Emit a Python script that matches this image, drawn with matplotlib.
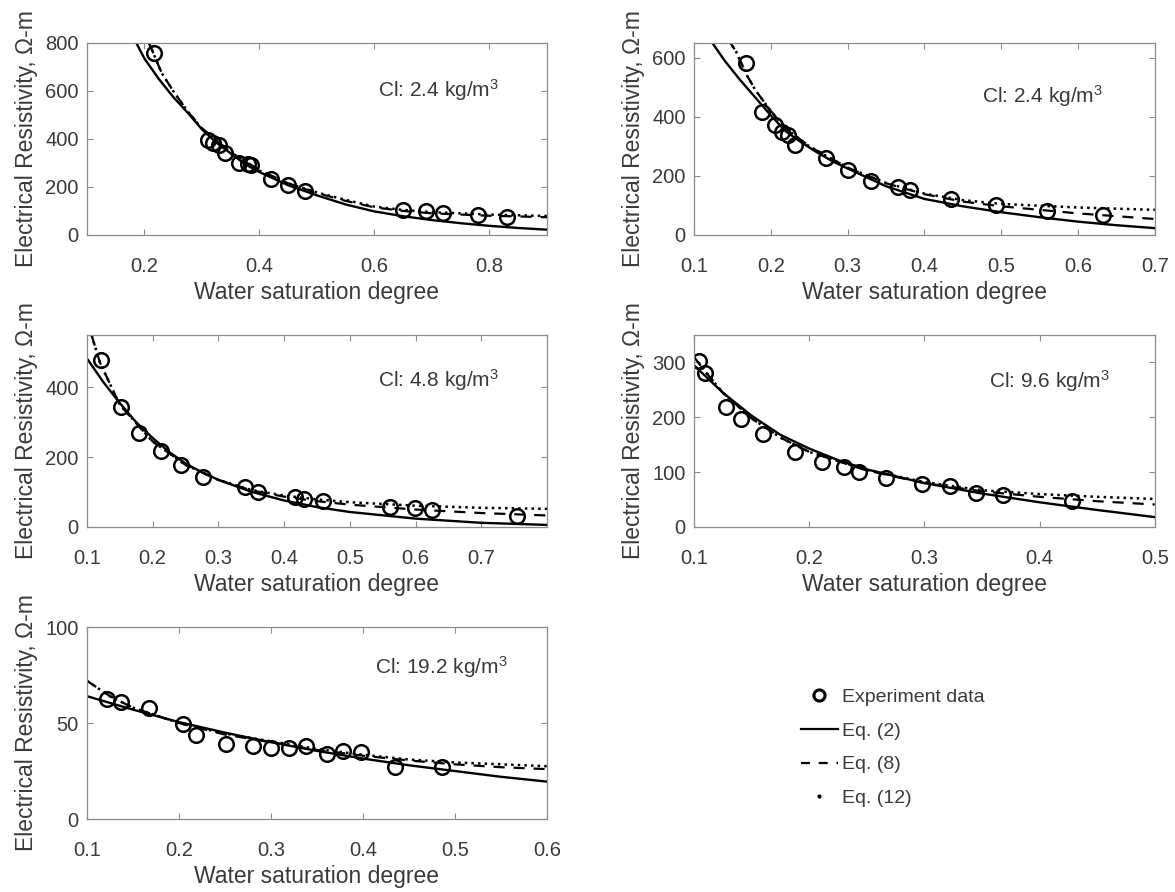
import matplotlib
matplotlib.use('Agg')
import matplotlib.pyplot as plt
from matplotlib.lines import Line2D
from matplotlib.ticker import FormatStrFormatter

plt.rcParams['font.family'] = ['Liberation Sans', 'DejaVu Sans']
plt.rcParams['mathtext.default'] = 'regular'

# ---- panel 1: Cl 2.4 kg/m3 (left) ----
sw_1 = [0.216, 0.31, 0.32, 0.33, 0.34, 0.365, 0.38, 0.385, 0.42, 0.45, 0.48, 0.65, 0.69, 0.72, 0.78, 0.83]
rho_1 = [760, 395, 385, 375, 340, 300, 295, 290, 235, 210, 185, 105, 100, 90, 85, 75]
eq2_x_1 = [0.175, 0.2, 0.225, 0.25, 0.275, 0.3, 0.325, 0.35, 0.375, 0.4, 0.45, 0.5, 0.55, 0.6, 0.65, 0.7, 0.75, 0.8, 0.85, 0.9]
eq2_1 = [850, 735, 650, 575, 510, 440, 385, 340, 295, 262, 207, 165, 127, 98, 78, 62, 49, 38, 29, 22]
eqx_1 = [0.208, 0.23, 0.25, 0.275, 0.3, 0.35, 0.4, 0.45, 0.5, 0.55, 0.6, 0.65, 0.7, 0.8, 0.9]
eq8_1 = [800, 675, 600, 515, 445, 345, 270, 215, 175, 142, 115, 100, 90, 80, 74]
eq12_1 = [800, 675, 600, 515, 443, 343, 268, 215, 177, 146, 118, 104, 95, 85, 79]

# ---- panel 2: Cl 2.4 kg/m3 (right) ----
sw_2 = [0.168, 0.188, 0.205, 0.215, 0.222, 0.231, 0.272, 0.300, 0.330, 0.365, 0.381, 0.434, 0.493, 0.560, 0.633]
rho_2 = [583, 418, 373, 350, 337, 303, 260, 221, 184, 162, 153, 122, 102, 80, 68]
eq2_x_2 = [0.12, 0.14, 0.16, 0.18, 0.2, 0.22, 0.24, 0.26, 0.28, 0.3, 0.33, 0.35, 0.4, 0.45, 0.5, 0.55, 0.6, 0.65, 0.7]
eq2_2 = [665, 590, 525, 465, 405, 350, 313, 280, 250, 225, 189, 165, 122, 97, 77, 60, 45, 33, 23]
eqx_2 = [0.145, 0.155, 0.168, 0.18, 0.2, 0.22, 0.25, 0.3, 0.35, 0.4, 0.45, 0.5, 0.6, 0.7]
eq8_2 = [660, 620, 545, 490, 420, 360, 300, 228, 175, 138, 113, 97, 73, 54]
eq12_2 = [660, 620, 545, 490, 420, 360, 300, 228, 176, 140, 118, 105, 93, 85]

# ---- panel 3: Cl 4.8 kg/m3 ----
sw_3 = [0.122, 0.152, 0.179, 0.213, 0.243, 0.277, 0.340, 0.361, 0.417, 0.431, 0.459, 0.561, 0.599, 0.625, 0.755]
rho_3 = [479, 344, 268, 217, 177, 142, 115, 99, 85, 80, 75, 56, 54, 49, 32]
eq2_x_3 = [0.1, 0.125, 0.15, 0.175, 0.2, 0.225, 0.25, 0.275, 0.3, 0.35, 0.4, 0.45, 0.5, 0.6, 0.7, 0.8]
eq2_3 = [483, 415, 355, 300, 255, 215, 182, 157, 135, 101, 76, 57, 43, 24, 12, 6]
eqx_3 = [0.107, 0.12, 0.15, 0.2, 0.25, 0.3, 0.35, 0.4, 0.45, 0.5, 0.6, 0.7, 0.8]
eq8_3 = [550, 470, 350, 245, 178, 135, 105, 87, 74, 64, 50, 40, 33]
eq12_3 = [550, 470, 350, 245, 178, 135, 106, 90, 79, 71, 61, 55, 52]

# ---- panel 4: Cl 9.6 kg/m3 ----
sw_4 = [0.104, 0.110, 0.128, 0.141, 0.160, 0.188, 0.211, 0.230, 0.243, 0.267, 0.298, 0.322, 0.345, 0.368, 0.428]
rho_4 = [303, 281, 219, 197, 170, 137, 118, 110, 100, 90, 79, 74, 62, 59, 48]
eq2_x_4 = [0.1, 0.11, 0.125, 0.15, 0.175, 0.2, 0.225, 0.25, 0.3, 0.35, 0.4, 0.45, 0.5]
eq2_4 = [295, 275, 245, 203, 168, 143, 122, 105, 80, 61, 45, 31, 18]
eqx_4 = [0.1, 0.11, 0.125, 0.15, 0.175, 0.2, 0.25, 0.3, 0.35, 0.4, 0.45, 0.5]
eq8_4 = [310, 283, 245, 198, 163, 137, 103, 80, 65, 55, 47, 41]
eq12_4 = [310, 283, 245, 198, 163, 137, 104, 82, 67, 60, 55, 51]

# ---- panel 5: Cl 19.2 kg/m3 ----
sw_5 = [0.122, 0.137, 0.167, 0.204, 0.218, 0.251, 0.280, 0.300, 0.320, 0.338, 0.361, 0.378, 0.398, 0.435, 0.486]
rho_5 = [62.5, 61, 58, 49.5, 44, 39, 38, 37, 37, 38, 34, 35.5, 35, 27, 27]
eq2_x_5 = [0.1, 0.15, 0.2, 0.25, 0.3, 0.35, 0.4, 0.45, 0.5, 0.55, 0.6]
eq2_5 = [64, 57, 50.5, 45, 40, 35.5, 31.5, 28, 25, 22, 19.5]
eqx_5 = [0.1, 0.125, 0.15, 0.2, 0.25, 0.3, 0.35, 0.4, 0.45, 0.5, 0.55, 0.6]
eq8_5 = [72, 64, 58, 50, 44, 40, 36, 33, 30.5, 28.5, 27, 26]
eq12_5 = [72, 64, 58, 50, 44.5, 40.5, 36.5, 33.5, 31, 29.5, 28.5, 27.5]

labels = ['Cl: 2.4 kg/m$^3$', 'Cl: 2.4 kg/m$^3$', 'Cl: 4.8 kg/m$^3$', 'Cl: 9.6 kg/m$^3$', 'Cl: 19.2 kg/m$^3$']

panels = [
    (sw_1, rho_1, eq2_x_1, eq2_1, eqx_1, eq8_1, eq12_1),
    (sw_2, rho_2, eq2_x_2, eq2_2, eqx_2, eq8_2, eq12_2),
    (sw_3, rho_3, eq2_x_3, eq2_3, eqx_3, eq8_3, eq12_3),
    (sw_4, rho_4, eq2_x_4, eq2_4, eqx_4, eq8_4, eq12_4),
    (sw_5, rho_5, eq2_x_5, eq2_5, eqx_5, eq8_5, eq12_5),
]

# axes limits / ticks per panel
xlims = [(0.1, 0.9), (0.1, 0.7), (0.1, 0.8), (0.1, 0.5), (0.1, 0.6)]
ylims = [(0, 800), (0, 650), (0, 550), (0, 350), (0, 100)]
xticks = [[0.2, 0.4, 0.6, 0.8], [0.1, 0.2, 0.3, 0.4, 0.5, 0.6, 0.7],
          [0.1, 0.2, 0.3, 0.4, 0.5, 0.6, 0.7], [0.1, 0.2, 0.3, 0.4, 0.5],
          [0.1, 0.2, 0.3, 0.4, 0.5, 0.6]]
yticks = [[0, 200, 400, 600, 800], [0, 200, 400, 600], [0, 200, 400],
          [0, 100, 200, 300], [0, 50, 100]]
label_pos = [(0.632, 0.72), (0.624, 0.69), (0.632, 0.73), (0.639, 0.725), (0.627, 0.755)]

# axes boxes in figure fraction
boxes = [
    [0.0740, 0.7366, 0.3915, 0.2152],
    [0.5906, 0.7366, 0.3923, 0.2152],
    [0.0740, 0.4092, 0.3915, 0.2152],
    [0.5906, 0.4092, 0.3923, 0.2152],
    [0.0740, 0.0818, 0.3915, 0.2152],
]

text_c = '#3a3a3a'
spine_c = '#8c8c8c'

fig = plt.figure(figsize=(11.75, 8.92), dpi=100)

for i, (sw, rho, x2, y2, xe, y8, y12) in enumerate(panels):
    ax = fig.add_axes(boxes[i])
    ax.plot(x2, y2, '-', color='black', lw=1.7)
    ax.plot(xe, y8, '--', color='black', lw=1.6, dashes=(5, 4))
    ax.plot(xe, y12, ':', color='black', lw=1.8)
    ax.plot(sw, rho, 'o', mfc='none', mec='black', mew=1.8, ms=10.5)

    ax.set_xlim(xlims[i])
    ax.set_ylim(ylims[i])
    ax.set_xticks(xticks[i])
    ax.set_yticks(yticks[i])
    ax.xaxis.set_major_formatter(FormatStrFormatter('%g'))
    ax.yaxis.set_major_formatter(FormatStrFormatter('%g'))
    ax.tick_params(direction='in', top=True, right=True, length=4, width=0.8,
                   color=spine_c, labelcolor=text_c, labelsize=14.5)
    ax.tick_params(axis='x', pad=16)
    ax.tick_params(axis='y', pad=6)
    for s in ax.spines.values():
        s.set_color(spine_c)
        s.set_linewidth(0.9)

    ax.set_xlabel('Water saturation degree', fontsize=16.5, color=text_c, labelpad=3.5)
    ax.set_ylabel('Electrical Resistivity, \u03a9-m', fontsize=16.5, color=text_c, labelpad=5)
    ax.text(label_pos[i][0], label_pos[i][1], labels[i], transform=ax.transAxes,
            fontsize=15, color=text_c, ha='left', va='baseline')

# legend in the empty slot
handles = [
    Line2D([], [], ls='none', marker='o', mfc='none', mec='black', mew=2.2, ms=8),
    Line2D([], [], ls='-', color='black', lw=1.6),
    Line2D([], [], ls='--', color='black', lw=1.6, dashes=(4, 4)),
    Line2D([], [], ls='none', marker='.', color='black', ms=4),
]
fig.legend(handles, ['Experiment data', 'Eq. (2)', 'Eq. (8)', 'Eq. (12)'],
           loc='upper left', bbox_to_anchor=(0.6815, 0.228), frameon=False,
           fontsize=14, labelcolor=text_c, handlelength=1.9, handletextpad=0.2,
           labelspacing=0.82, borderpad=0, borderaxespad=0)

fig.savefig('out.png', dpi=100)
